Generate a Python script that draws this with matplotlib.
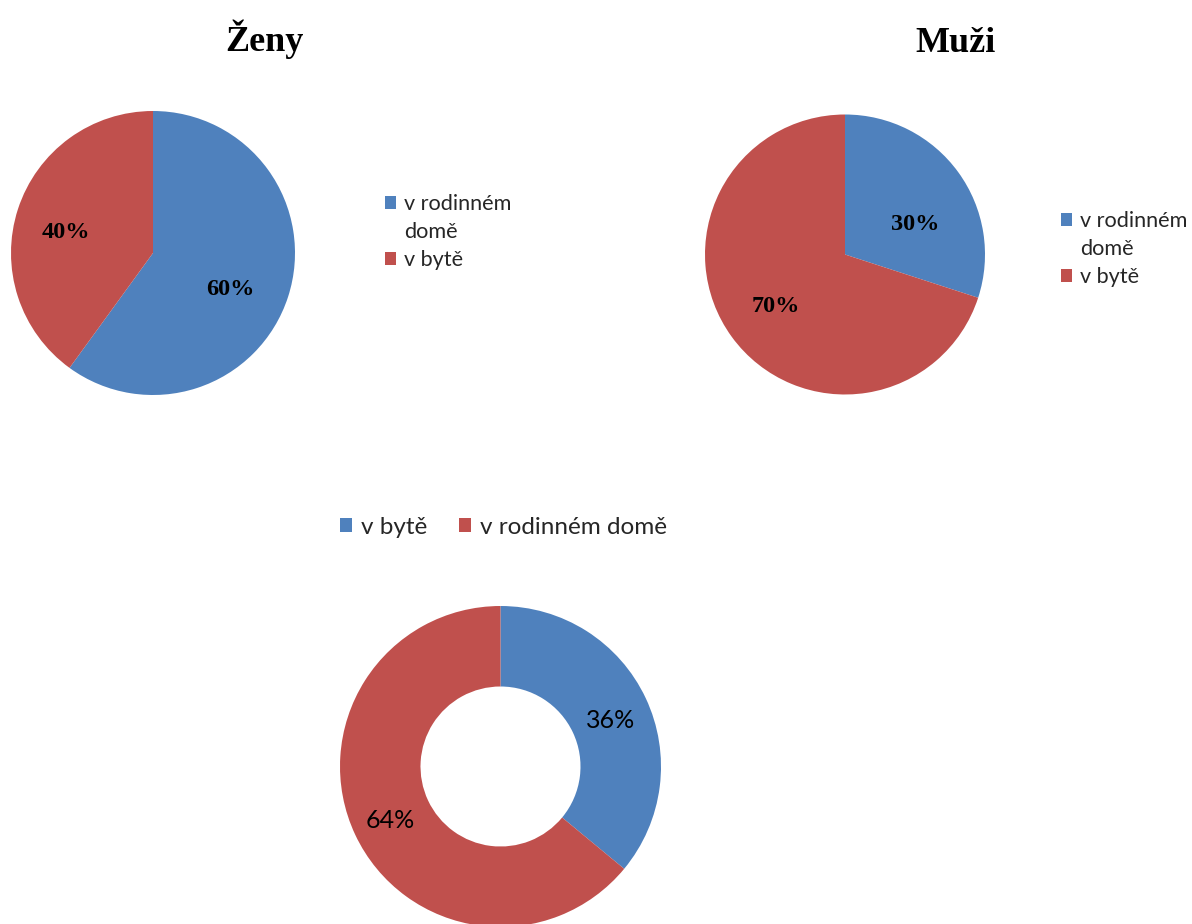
import matplotlib
matplotlib.use("Agg")
import matplotlib.pyplot as plt
from matplotlib.patches import Rectangle

# data
zeny_labels = ["v rodinném domě", "v bytě"]
zeny_values = [60, 40]
muzi_labels = ["v rodinném domě", "v bytě"]
muzi_values = [30, 70]
celkem_labels = ["v bytě", "v rodinném domě"]
celkem_values = [36, 64]

BLUE = "#4F81BD"
RED = "#C0504D"
W, H = 1192, 924
SERIF = "Liberation Serif"
SANS = "Lato"


def Y(ypix):
    return H - ypix


def nudge(texts, offsets):
    # small pixel shifts of the percentage labels (Excel "best fit" placement)
    for t, (dx, dy) in zip(texts, offsets):
        x, y = t.get_position()
        t.set_position((x + dx, y - dy))


fig = plt.figure(figsize=(W / 100, H / 100), dpi=100)
ax = fig.add_axes([0, 0, 1, 1])

# Ženy
w1, t1, a1 = ax.pie(zeny_values, colors=[BLUE, RED], startangle=90, counterclock=False,
                    center=(153, Y(253)), radius=142, autopct="%d%%", pctdistance=0.62,
                    wedgeprops=dict(linewidth=0))
for t in a1:
    t.set_fontfamily(SERIF); t.set_fontweight("bold"); t.set_fontsize(17.5)
nudge(a1, [(-6, 9), (-3, 7)])
ax.text(264, Y(51), "Ženy", ha="center", va="baseline", fontsize=26,
        fontweight="bold", fontfamily=SERIF)

# Muži
w2, t2, a2 = ax.pie(muzi_values, colors=[BLUE, RED], startangle=90, counterclock=False,
                    center=(845, Y(254.5)), radius=140, autopct="%d%%", pctdistance=0.6,
                    wedgeprops=dict(linewidth=0))
for t in a2:
    t.set_fontfamily(SERIF); t.set_fontweight("bold"); t.set_fontsize(17.5)
nudge(a2, [(2, 19), (-1, 3)])
ax.text(955, Y(52), "Muži", ha="center", va="baseline", fontsize=26,
        fontweight="bold", fontfamily=SERIF)

# celkem (donut)
w3, t3, a3 = ax.pie(celkem_values, colors=[BLUE, RED], startangle=90, counterclock=False,
                    center=(500.5, Y(766.5)), radius=160.5, autopct="%d%%", pctdistance=0.75,
                    wedgeprops=dict(width=80.5, linewidth=0))
for t in a3:
    t.set_fontfamily(SANS); t.set_fontsize(18); t.set_color("black")
nudge(a3, [(1, 5), (-1, 3)])

ax.set_xlim(0, W)
ax.set_ylim(0, H)
ax.axis("off")

blank = Rectangle((0, 0), 1, 1, alpha=0)
leg_kw = dict(frameon=False, borderpad=0, borderaxespad=0, handlelength=0.52,
              handleheight=0.52, handletextpad=0.36, labelspacing=0.38,
              prop={"family": SANS, "size": 15.6}, labelcolor="#262626",
              loc="upper left", bbox_transform=ax.transData)

l1 = ax.legend([w1[0], blank, w1[1]], ["v rodinném", "domě", "v bytě"],
               bbox_to_anchor=(385, Y(194)), **leg_kw)
ax.add_artist(l1)
l2 = ax.legend([w2[0], blank, w2[1]], ["v rodinném", "domě", "v bytě"],
               bbox_to_anchor=(1061, Y(211)), **leg_kw)
ax.add_artist(l2)
kw3 = dict(leg_kw)
kw3["loc"] = "center left"
kw3["prop"] = {"family": SANS, "size": 17.5}
kw3["handlelength"] = 0.5
kw3["handleheight"] = 0.5
ax.legend(w3, celkem_labels, bbox_to_anchor=(340, Y(527)), ncol=2, columnspacing=1.3, **kw3)

fig.savefig("out.png", dpi=100)
